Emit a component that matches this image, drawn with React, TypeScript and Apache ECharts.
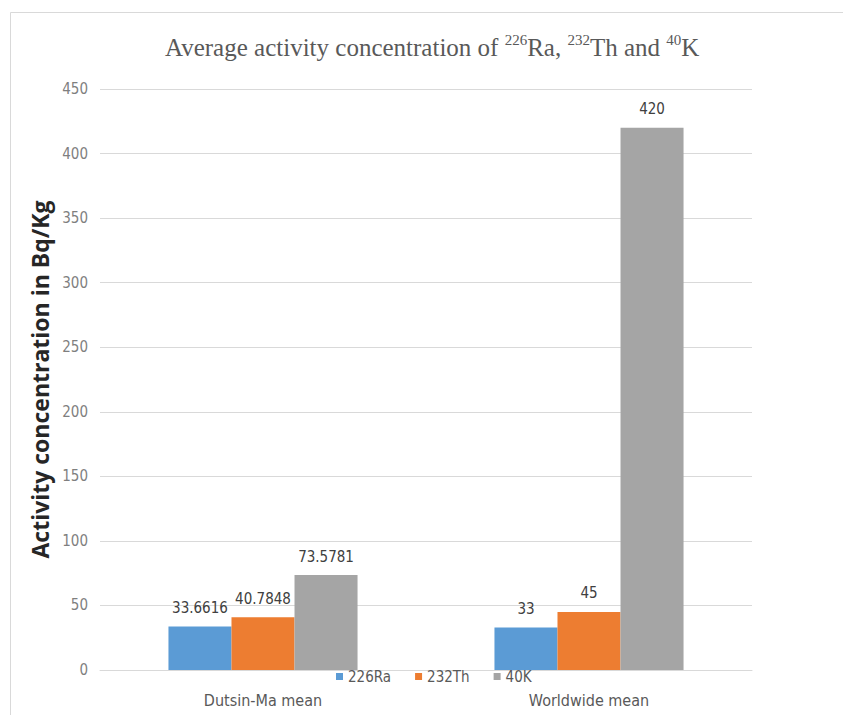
import React, { useEffect, useRef } from "react";
import * as echarts from "echarts";

const categories = ["Dutsin-Ma mean", "Worldwide mean"];
const seriesNames = ["226Ra", "232Th", "40K"];
const ra226 = [33.6616, 33];
const th232 = [40.7848, 45];
const k40 = [73.5781, 420];
const yTicks = { min: 0, max: 450, interval: 50 };

const colors = ["#5B9BD5", "#ED7D31", "#A5A5A5"];
const narrow = "'DejaVu Sans Condensed', 'Liberation Sans', sans-serif";
const serif = "'Liberation Serif', 'Times New Roman', serif";

export default function App() {
  const ref = useRef<HTMLDivElement>(null);
  useEffect(() => {
    if (!ref.current) return;
    const chart = echarts.init(ref.current, null, { renderer: "svg" });
    const values = [ra226, th232, k40];
    chart.setOption({
      animation: false,
      backgroundColor: "#ffffff",
      title: {
        text:
          "{a|Average activity concentration of }{s|226}{a|Ra, }{s|232}{a|Th and }{s|40}{a|K}",
        left: 160,
        top: 27,
        textStyle: {
          fontWeight: "normal",
          rich: {
            a: {
              fontFamily: serif,
              fontWeight: "normal",
              fontSize: 25,
              lineHeight: 30,
              color: "#595959",
            },
            s: {
              fontFamily: serif,
              fontWeight: "normal",
              fontSize: 15,
              lineHeight: 17,
              verticalAlign: "top",
              color: "#595959",
            },
          },
        },
      },
      legend: {
        data: seriesNames,
        left: 336,
        top: 669,
        padding: 0,
        itemWidth: 7,
        itemHeight: 7,
        itemGap: 24,
        icon: "rect",
        textStyle: { fontFamily: narrow, fontSize: 15, color: "#595959" },
      },
      grid: { left: 100, right: 91, top: 89, bottom: 45 },
      xAxis: {
        type: "category",
        data: categories,
        axisLine: { lineStyle: { color: "#d9d9d9", width: 1 } },
        axisTick: { show: false },
        axisLabel: { fontFamily: narrow, fontSize: 16, color: "#595959", margin: 22 },
      },
      yAxis: {
        type: "value",
        min: yTicks.min,
        max: yTicks.max,
        interval: yTicks.interval,
        name: "Activity concentration in Bq/Kg",
        nameLocation: "middle",
        nameGap: 36,
        nameTextStyle: {
          fontFamily: "'Open Sans', sans-serif",
          fontWeight: "bold",
          fontSize: 23,
          color: "#262626",
        },
        axisLine: { show: false },
        axisTick: { show: false },
        axisLabel: { fontFamily: narrow, fontSize: 15, color: "#7f7f7f", margin: 12 },
        splitLine: { lineStyle: { color: "#d9d9d9", width: 1 } },
      },
      series: seriesNames.map((name, i) => ({
        name,
        type: "bar",
        data: values[i],
        barGap: "0%",
        barCategoryGap: "42%",
        itemStyle: { color: colors[i] },
        label: {
          show: true,
          position: "top",
          distance: 11,
          fontFamily: narrow,
          fontSize: 15,
          color: "#404040",
        },
      })),
      graphic: [
        {
          type: "line",
          shape: { x1: 10.5, y1: 12.5, x2: 843, y2: 12.5 },
          style: { stroke: "#d9d9d9", lineWidth: 1 },
        },
        {
          type: "line",
          shape: { x1: 10.5, y1: 12.5, x2: 10.5, y2: 715 },
          style: { stroke: "#d9d9d9", lineWidth: 1 },
        },
      ],
    });
    return () => chart.dispose();
  }, []);
  return (
    <div
      ref={ref}
      style={{ position: "fixed", left: 0, top: 0, width: 843, height: 715 }}
    />
  );
}
